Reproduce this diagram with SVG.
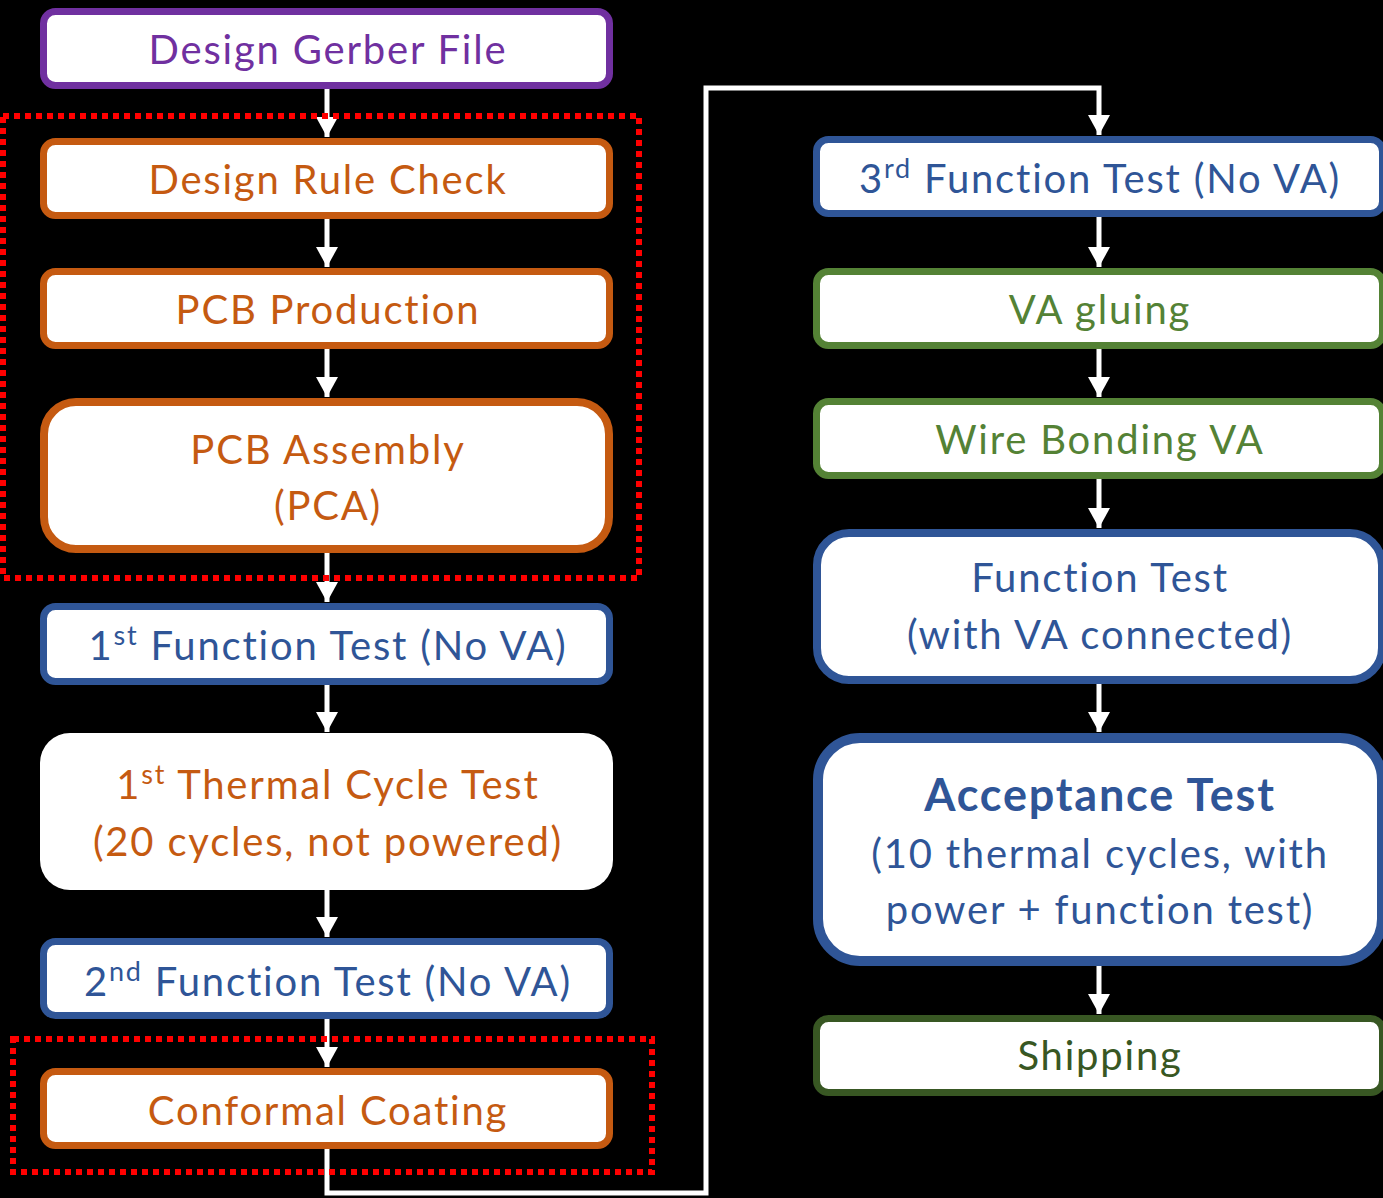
<svg xmlns="http://www.w3.org/2000/svg" width="1383" height="1198" viewBox="0 0 1383 1198">
<style>
.box{fill:#fff;stroke-width:7}
.t{font-family:Lato,"Liberation Sans",sans-serif;font-size:40px;text-anchor:middle;letter-spacing:1.8px}
.pur{stroke:#7030A0}.org{stroke:#C55A11}.blu{stroke:#2F5597}.grn{stroke:#548235}.dgr{stroke:#385723}
.tp{fill:#7030A0}.to{fill:#C55A11}.tb{fill:#2F5597}.tg{fill:#548235}.td{fill:#385723}
.sup{font-size:27px}
.red{fill:none;stroke:#FF0000;stroke-width:6;stroke-dasharray:6 5}
.con{fill:none;stroke:#fff;stroke-width:5}
</style>
<defs>
<marker id="ah" markerUnits="userSpaceOnUse" markerWidth="22" markerHeight="22" viewBox="0 0 22 22" refX="20" refY="11" orient="auto">
<path d="M0,0 L20,11 L0,22 z" fill="#fff"/>
</marker>
</defs>
<rect width="1383" height="1198" fill="#000"/>

<g id="connectors">
<path class="con" d="M327,89 V137" marker-end="url(#ah)"/>
<path class="con" d="M327,218 V267" marker-end="url(#ah)"/>
<path class="con" d="M327,349 V397" marker-end="url(#ah)"/>
<path class="con" d="M327,553 V602" marker-end="url(#ah)"/>
<path class="con" d="M327,685 V732" marker-end="url(#ah)"/>
<path class="con" d="M327,890 V937" marker-end="url(#ah)"/>
<path class="con" d="M327,1018 V1067" marker-end="url(#ah)"/>
<path class="con" d="M327,1149 V1193 H706 V88 H1099 V135" marker-end="url(#ah)"/>
<path class="con" d="M1099,216 V267" marker-end="url(#ah)"/>
<path class="con" d="M1099,349 V397" marker-end="url(#ah)"/>
<path class="con" d="M1099,479 V528" marker-end="url(#ah)"/>
<path class="con" d="M1099,684 V732" marker-end="url(#ah)"/>
<path class="con" d="M1099,966 V1014" marker-end="url(#ah)"/>
</g>

<g id="group-red-1"><rect class="red" x="3" y="116" width="636" height="462"/></g>
<g id="group-red-2"><rect class="red" x="13" y="1039" width="639" height="133"/></g>

<g id="n-gerber">
<rect class="box pur" x="43.5" y="11.5" width="566" height="74" rx="12"/>
<text class="t tp" x="328" y="64">Design Gerber File</text>
</g>
<g id="n-drc">
<rect class="box org" x="43.5" y="141.5" width="566" height="74" rx="12"/>
<text class="t to" x="328" y="194">Design Rule Check</text>
</g>
<g id="n-pcbprod">
<rect class="box org" x="43.5" y="271.5" width="566" height="74" rx="12"/>
<text class="t to" x="328" y="324">PCB Production</text>
</g>
<g id="n-pca">
<rect class="box org" x="44" y="402" width="565" height="147" rx="32" style="stroke-width:8"/>
<text class="t to" x="328" y="464">PCB Assembly</text>
<text class="t to" x="328" y="520">(PCA)</text>
</g>
<g id="n-ft1">
<rect class="box blu" x="43.5" y="606.5" width="566" height="75" rx="12"/>
<text class="t tb" x="328" y="660">1<tspan class="sup" dy="-15">st</tspan><tspan dy="15"> Function Test (No VA)</tspan></text>
</g>
<g id="n-tc1">
<rect x="40" y="733" width="573" height="157" rx="30" fill="#fff"/>
<text class="t to" x="328" y="799">1<tspan class="sup" dy="-15">st</tspan><tspan dy="15"> Thermal Cycle Test</tspan></text>
<text class="t to" x="328" y="856">(20 cycles, not powered)</text>
</g>
<g id="n-ft2">
<rect class="box blu" x="43.5" y="941.5" width="566" height="74" rx="12"/>
<text class="t tb" x="328" y="996">2<tspan class="sup" dy="-15">nd</tspan><tspan dy="15"> Function Test (No VA)</tspan></text>
</g>
<g id="n-coat">
<rect class="box org" x="43.5" y="1071.5" width="566" height="74" rx="12"/>
<text class="t to" x="328" y="1125">Conformal Coating</text>
</g>

<g id="n-ft3">
<rect class="box blu" x="816.5" y="139.5" width="566" height="74" rx="12"/>
<text class="t tb" x="1100" y="193">3<tspan class="sup" dy="-15">rd</tspan><tspan dy="15"> Function Test (No VA)</tspan></text>
</g>
<g id="n-glue">
<rect class="box grn" x="816.5" y="271.5" width="566" height="74" rx="12"/>
<text class="t tg" x="1100" y="324">VA gluing</text>
</g>
<g id="n-wire">
<rect class="box grn" x="816.5" y="401.5" width="566" height="74" rx="12"/>
<text class="t tg" x="1100" y="454">Wire Bonding VA</text>
</g>
<g id="n-ftva">
<rect class="box blu" x="817" y="533" width="565" height="147" rx="32" style="stroke-width:8"/>
<text class="t tb" x="1100" y="592">Function Test</text>
<text class="t tb" x="1100" y="649">(with VA connected)</text>
</g>
<g id="n-accept">
<rect class="box blu" x="818" y="738" width="564" height="223" rx="42" style="stroke-width:10"/>
<text class="t tb" x="1100" y="811" style="font-weight:bold;font-size:45px">Acceptance Test</text>
<text class="t tb" x="1100" y="868">(10 thermal cycles, with</text>
<text class="t tb" x="1100" y="924">power + function test)</text>
</g>
<g id="n-ship">
<rect class="box dgr" x="816.5" y="1018.5" width="566" height="74" rx="12"/>
<text class="t td" x="1100" y="1070">Shipping</text>
</g>
</svg>
